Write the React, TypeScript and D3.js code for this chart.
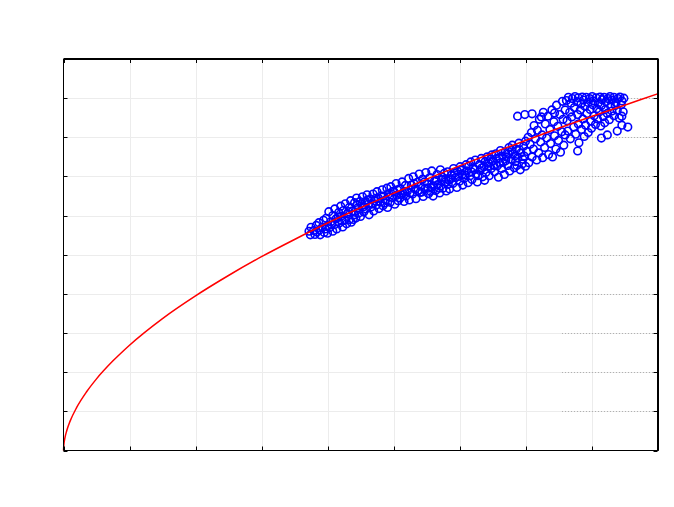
import React from "react";
import * as d3 from "d3";

const xTicks = [0, 1, 2, 3, 4, 5, 6, 7, 8, 9];
const yTicks = [0, 1, 2, 3, 4, 5, 6, 7, 8, 9, 10];

// fitted curve
const curveX = [0, 0.005, 0.02, 0.05, 0.1, 0.2, 0.35, 0.5, 0.75, 1, 1.5, 2, 2.5, 3, 3.5, 4, 4.5, 5, 5.5, 6, 6.5, 7, 7.5, 8, 8.5, 9];
const curveY = [0, 0.14, 0.31, 0.51, 0.75, 1.1, 1.5, 1.83, 2.29, 2.69, 3.37, 3.95, 4.47, 4.95, 5.39, 5.81, 6.2, 6.57, 6.93, 7.27, 7.6, 7.92, 8.23, 8.53, 8.82, 9.11];

const obsLow: [number, number][] = [
  [3.72, 5.6], [3.74, 5.51], [3.75, 5.7], [3.79, 5.62], [3.81, 5.52], [3.83, 5.75], [3.84, 5.58], [3.87, 5.82], [3.88, 5.63], [3.89, 5.51],
  [3.92, 5.7], [3.94, 5.88], [3.95, 5.57], [3.97, 5.66], [3.98, 5.93], [4.0, 5.74], [4.0, 5.55],
  [4.02, 6.1], [4.03, 5.69], [4.05, 5.84], [4.08, 5.6], [4.08, 6.0], [4.11, 5.77], [4.11, 6.17], [4.13, 5.92], [4.14, 5.66], [4.17, 6.08],
  [4.18, 5.81], [4.2, 6.24], [4.21, 5.99], [4.23, 5.71], [4.24, 6.13], [4.26, 5.88], [4.27, 6.3], [4.29, 5.79], [4.3, 6.05], [4.33, 6.21],
  [4.33, 5.9], [4.35, 6.38], [4.36, 5.83], [4.38, 6.12], [4.41, 6.02], [4.41, 6.33], [4.43, 5.94], [4.44, 6.45], [4.46, 6.2], [4.47, 6.06],
  [4.49, 6.36], [4.5, 5.98],
  [4.52, 6.25], [4.53, 6.48], [4.55, 6.09], [4.57, 6.36], [4.58, 6.17], [4.6, 6.53], [4.62, 6.3], [4.63, 6.02], [4.65, 6.42], [4.66, 6.22],
  [4.69, 6.55], [4.7, 6.12], [4.71, 6.38], [4.74, 6.27], [4.75, 6.61], [4.77, 6.45], [4.78, 6.18], [4.8, 6.35], [4.83, 6.66], [4.84, 6.25],
  [4.85, 6.5], [4.88, 6.4], [4.9, 6.7], [4.91, 6.21], [4.93, 6.56], [4.95, 6.34], [4.96, 6.74], [4.98, 6.46], [5.01, 6.6], [5.02, 6.29],
  [5.04, 6.82], [5.05, 6.52], [5.07, 6.38], [5.1, 6.69], [5.1, 6.45], [5.13, 6.86], [5.14, 6.57], [5.16, 6.36], [5.18, 6.77], [5.19, 6.5],
  [4.06, 5.76], [4.16, 5.96], [4.22, 5.86], [4.32, 6.1], [4.39, 5.9], [4.45, 6.28], [4.54, 6.22], [4.61, 6.4], [4.68, 6.3], [4.73, 6.44],
  [4.81, 6.5], [4.87, 6.32], [4.94, 6.48], [4.99, 6.62],
];

const obsMid: [number, number][] = [
  [5.21, 6.62], [5.23, 6.95], [5.24, 6.4], [5.27, 6.78], [5.29, 6.55], [5.3, 6.99], [5.33, 6.67], [5.34, 6.43], [5.36, 6.85], [5.39, 7.06],
  [5.4, 6.59], [5.41, 6.75], [5.44, 6.93], [5.45, 6.49], [5.48, 6.7], [5.49, 7.1], [5.51, 6.82], [5.53, 6.56], [5.55, 6.97], [5.57, 6.72],
  [5.58, 7.14], [5.6, 6.5], [5.62, 6.88], [5.64, 6.64], [5.66, 7.05], [5.67, 6.79], [5.7, 6.58], [5.71, 7.17], [5.73, 6.92], [5.75, 6.7],
  [5.77, 7.08], [5.78, 6.85], [5.8, 6.63],
  [5.82, 7.12], [5.84, 6.9], [5.85, 6.68], [5.88, 7.04], [5.9, 6.82], [5.91, 7.2], [5.94, 6.97], [5.96, 6.72], [5.97, 7.13], [6.0, 6.88],
  [6.01, 7.25], [6.04, 7.05], [6.05, 6.78], [6.07, 6.95], [6.1, 7.3], [6.11, 7.14], [6.13, 6.84], [6.16, 7.02], [6.17, 7.37], [6.19, 6.92],
  [6.21, 7.22], [6.24, 7.42], [6.25, 7.06], [6.27, 6.86], [6.3, 7.3], [6.31, 7.15], [6.33, 7.46], [6.35, 6.99], [6.37, 7.25], [6.38, 6.9],
  [6.4, 7.1], [6.42, 7.5], [6.44, 7.34], [6.45, 7.02], [6.48, 7.2], [6.49, 7.55],
  [6.51, 7.4], [6.53, 7.12], [6.55, 7.58], [6.57, 7.27], [6.59, 6.98], [6.6, 7.46], [6.62, 7.66], [6.64, 7.2], [6.66, 7.36], [6.68, 7.05],
  [6.69, 7.62], [6.71, 7.5], [6.73, 7.28], [6.75, 7.74], [6.76, 7.14], [6.78, 7.44], [6.8, 7.8], [6.81, 7.58], [6.83, 7.22], [6.85, 7.38],
  [6.86, 7.7], [6.88, 7.48], [6.9, 7.85], [6.92, 7.17], [6.93, 7.6], [6.95, 7.32], [6.97, 7.77], [6.98, 7.52], [7.0, 7.26], [7.0, 7.9],
  [5.06, 6.66], [5.12, 6.54], [5.17, 6.62], [5.25, 6.58], [5.31, 6.82], [5.37, 6.64], [5.43, 6.6], [5.47, 6.86], [5.52, 6.7], [5.56, 6.62],
  [5.61, 6.76], [5.65, 6.9], [5.69, 6.7], [5.74, 6.98], [5.79, 6.94], [5.83, 6.8], [5.87, 6.94], [5.92, 7.08], [5.99, 7.0], [6.03, 7.16],
  [6.08, 7.04], [6.14, 7.26], [6.18, 7.12], [6.23, 7.18], [6.28, 7.02], [6.34, 7.22], [6.39, 7.38], [6.43, 7.26], [6.47, 7.44], [6.52, 7.28],
  [6.56, 7.46], [6.61, 7.34], [6.65, 7.52], [6.7, 7.4], [6.74, 7.58], [6.79, 7.66], [6.84, 7.52], [6.87, 7.28], [6.91, 7.68], [6.96, 7.44],
  [6.88, 8.54], [6.99, 8.58], [7.1, 8.6],
];

const obsHigh: [number, number][] = [
  [7.02, 7.64], [7.04, 8.0], [7.05, 7.35], [7.07, 7.82], [7.09, 8.12], [7.1, 7.5], [7.12, 7.7], [7.13, 8.3], [7.15, 7.96], [7.17, 7.42],
  [7.18, 8.18], [7.2, 7.6], [7.21, 8.46], [7.23, 7.88], [7.25, 8.06], [7.26, 7.48], [7.27, 8.64], [7.29, 7.74], [7.3, 8.34], [7.32, 7.98],
  [7.34, 8.54], [7.35, 7.56], [7.37, 8.2], [7.38, 7.84], [7.4, 8.7], [7.41, 7.5], [7.43, 8.4], [7.44, 8.04], [7.46, 7.7], [7.47, 8.82],
  [7.49, 8.28], [7.5, 7.92], [7.52, 8.58], [7.53, 7.62], [7.55, 8.14], [7.56, 8.92], [7.57, 8.46], [7.58, 7.8], [7.6, 8.7], [7.6, 8.06],
  [7.24, 8.52], [7.44, 8.62],
  [7.62, 8.94], [7.65, 9.02], [7.69, 8.87], [7.71, 8.99], [7.75, 9.04], [7.78, 8.91], [7.8, 9.01], [7.84, 8.85], [7.86, 9.03], [7.88, 8.95],
  [7.92, 9.02], [7.95, 8.89], [7.97, 8.99], [8.01, 9.04], [8.03, 8.93], [8.07, 9.01], [8.1, 8.87], [8.13, 9.03], [8.16, 8.96], [8.19, 9.02],
  [8.22, 8.91], [8.25, 8.99], [8.28, 9.04], [8.31, 8.95], [8.34, 9.02], [8.37, 8.89], [8.4, 8.99], [8.43, 9.03], [8.46, 8.93], [8.49, 9.0],
  [7.63, 8.42], [7.64, 8.16], [7.67, 8.64], [7.68, 7.96], [7.7, 8.52], [7.73, 8.26], [7.74, 8.76], [7.76, 8.08], [7.79, 8.58], [7.8, 8.34],
  [7.81, 7.86], [7.83, 8.7], [7.85, 8.2], [7.87, 8.47], [7.89, 8.02], [7.9, 8.79], [7.91, 8.31], [7.93, 8.61], [7.95, 8.12], [7.98, 8.71],
  [7.99, 8.41], [8.0, 8.23], [8.02, 8.83], [8.04, 8.55], [8.06, 8.33], [8.08, 8.73], [8.09, 8.47], [8.12, 8.65], [8.14, 8.29], [8.15, 8.81],
  [8.18, 8.53], [8.2, 8.37], [8.21, 8.71], [8.24, 8.61], [8.27, 8.45], [8.29, 8.79], [8.31, 8.67], [8.34, 8.55], [8.36, 8.81], [8.39, 8.69],
  [8.42, 8.49], [8.45, 8.83], [8.48, 8.65],
  [7.79, 7.65], [8.15, 7.98], [8.24, 8.06], [8.39, 8.16], [8.55, 8.26], [8.46, 8.54], [8.46, 8.31],
];

const W = 674;
const H = 507;
const L = 63.5, R = 657.5, T = 59, B = 450.5;

export default function App() {
  const x = d3.scaleLinear().domain([0, 9]).range([L, R]);
  const y = d3.scaleLinear().domain([0, 10]).range([B, T]);
  const pts = [...obsLow, ...obsMid, ...obsHigh];
  const line = d3
    .line<number>()
    .x((_, i) => x(curveX[i]))
    .y((d) => y(d))
    .curve(d3.curveMonotoneX);
  const tl = 4;
  const px = (v: number) => Math.round(x(v)) + 0.5;
  const py = (v: number) => Math.round(y(v)) + 0.5;
  return (
    <svg width={W} height={H} style={{ position: "fixed", left: 0, top: 0, background: "#fff" }}>
      <rect x={0} y={0} width={W} height={H} fill="#fff" />
      {xTicks.slice(1, -1).map((t) => (
        <line key={"gx" + t} x1={px(t)} x2={px(t)} y1={T} y2={B} stroke="#ececec" strokeWidth={1} />
      ))}
      {yTicks.slice(1, -1).map((t) => (
        <line key={"gy" + t} x1={L} x2={R} y1={py(t)} y2={py(t)} stroke="#ececec" strokeWidth={1} />
      ))}
      {yTicks.slice(1, -1).map((t) => (
        <line key={"gd" + t} x1={562} x2={R} y1={py(t)} y2={py(t)} stroke="#b0b0b0" strokeWidth={1} strokeDasharray="1,2" />
      ))}
      {pts.map(([a, b], i) => (
        <circle key={i} cx={x(a)} cy={y(b)} r={3.8} fill="none" stroke="#0000ff" strokeWidth={1.6} />
      ))}
      <path d={line(curveY) || ""} fill="none" stroke="#ff0000" strokeWidth={1.5} />
      {xTicks.map((t) => (
        <g key={"tx" + t}>
          <line x1={px(t)} x2={px(t)} y1={B} y2={B - tl} stroke="#000" />
          <line x1={px(t)} x2={px(t)} y1={T} y2={T + tl} stroke="#000" />
        </g>
      ))}
      {yTicks.map((t) => (
        <g key={"ty" + t}>
          <line x1={L} x2={L + tl} y1={py(t)} y2={py(t)} stroke="#000" />
          <line x1={R} x2={R - tl} y1={py(t)} y2={py(t)} stroke="#000" />
        </g>
      ))}
      <line x1={L} x2={L} y1={T} y2={B} stroke="#000" strokeWidth={1} />
      <line x1={L} x2={R + 1} y1={B} y2={B} stroke="#000" strokeWidth={1} />
      <line x1={L} x2={R + 1} y1={T} y2={T} stroke="#000" strokeWidth={2} />
      <line x1={R + 0.5} x2={R + 0.5} y1={T} y2={B} stroke="#000" strokeWidth={2} />
    </svg>
  );
}
